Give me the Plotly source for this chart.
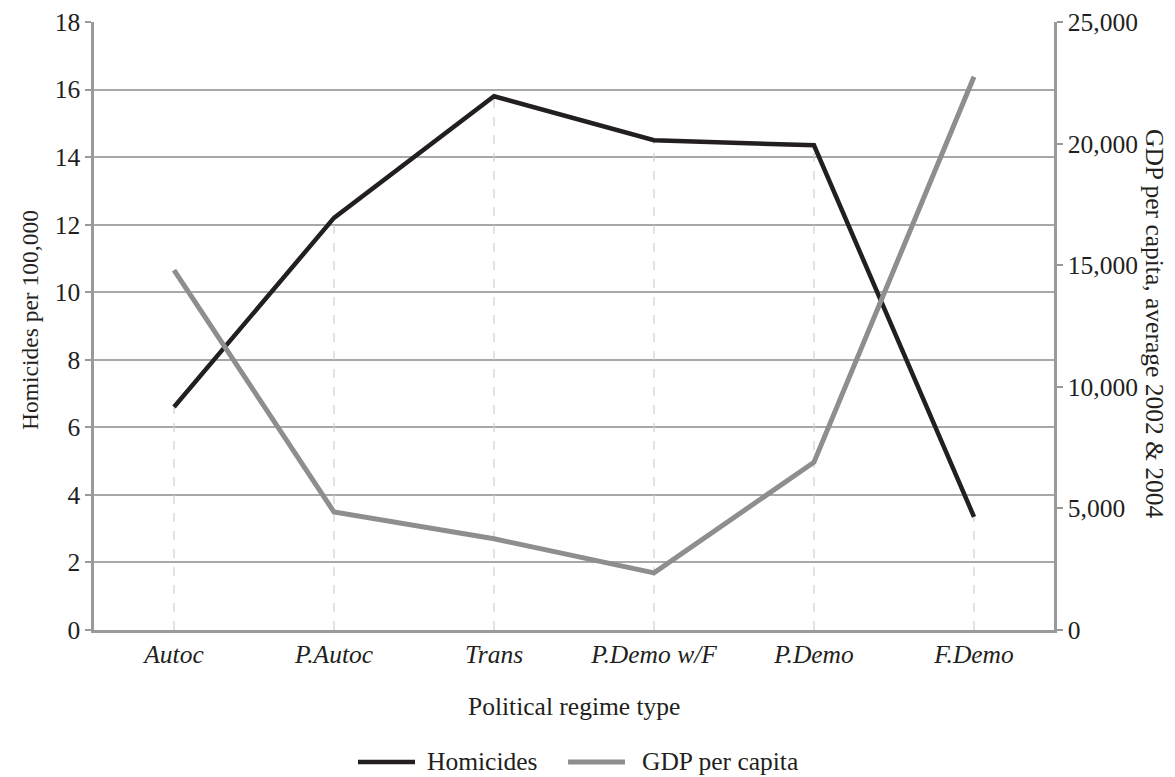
import plotly.graph_objects as go

categories = ["Autoc", "P.Autoc", "Trans", "P.Demo w/F", "P.Demo", "F.Demo"]
homicides = [6.6, 12.2, 15.8, 14.5, 14.35, 3.35]
gdp_per_capita = [14800, 4850, 3750, 2350, 6900, 22750]

FONT = "Liberation Serif, Times New Roman, serif"
TXT = "#231f20"
FS = 25.5
C_HOM = "#231f20"
C_GDP = "#8e8e8e"

# drop lines from axis to homicide points, built from data
dx, dy = [], []
for c, v in zip(categories, homicides):
    dx += [c, c, None]
    dy += [0, v, None]

fig = go.Figure()
fig.add_trace(go.Scatter(x=dx, y=dy, mode="lines", showlegend=False, hoverinfo="skip",
                         line=dict(color="#cfcfcf", width=1.2, dash="dash")))
fig.add_trace(go.Scatter(x=categories, y=homicides, name="Homicides", mode="lines",
                         showlegend=False, line=dict(color=C_HOM, width=4.5)))
fig.add_trace(go.Scatter(x=categories, y=gdp_per_capita, name="GDP per capita", mode="lines",
                         showlegend=False, yaxis="y2", line=dict(color=C_GDP, width=5)))

# legend drawn below the chart (paper coordinates)
LEG_Y = -0.217
legend_items = [("Homicides", C_HOM, 4.5, 0.2750, 0.3344, 0.3448),
                ("GDP per capita", C_GDP, 5, 0.4938, 0.5531, 0.5688)]
shapes, annos = [], []
for name, col, w, x0, x1, xt in legend_items:
    shapes.append(dict(type="line", xref="paper", yref="paper", x0=x0, x1=x1,
                       y0=LEG_Y, y1=LEG_Y, line=dict(color=col, width=w)))
    annos.append(dict(text=name, xref="paper", yref="paper", x=xt, y=LEG_Y,
                      xanchor="left", yanchor="middle", showarrow=False,
                      font=dict(size=FS, family=FONT, color=TXT)))

fig.update_layout(
    width=1167, height=769,
    paper_bgcolor="white", plot_bgcolor="white",
    margin=dict(l=86, r=121, t=14, b=147, autoexpand=False),
    font=dict(family=FONT, size=FS, color=TXT),
    showlegend=False,
    xaxis=dict(type="category", range=[-0.5, 5.5], showgrid=False,
               showline=True, linecolor="#9a9a9a", linewidth=2.5, ticks="",
               tickfont=dict(family=FONT, size=FS, style="italic", color=TXT)),
    yaxis=dict(range=[0, 18], tickvals=[0, 2, 4, 6, 8, 10, 12, 14, 16, 18],
               showgrid=True, gridcolor="#a8a8a8", gridwidth=2,
               showline=True, linecolor="#9a9a9a", linewidth=2.5, zeroline=False,
               ticks="outside", ticklen=6, tickwidth=2, tickcolor="#9a9a9a",
               ticklabeloverflow="allow", tickfont=dict(size=FS)),
    yaxis2=dict(range=[0, 25000], tickvals=[0, 5000, 10000, 15000, 20000, 25000],
                tickformat=",", overlaying="y", side="right",
                showgrid=False, showline=True, linecolor="#9a9a9a", linewidth=2.5, zeroline=False,
                ticks="outside", ticklen=6, tickwidth=2, tickcolor="#9a9a9a",
                ticklabeloverflow="allow", tickfont=dict(size=FS)),
    shapes=shapes,
    annotations=[
        dict(text="Political regime type", xref="paper", yref="paper", x=0.5, y=0,
             xanchor="center", yanchor="middle", yshift=-76, showarrow=False,
             font=dict(size=FS, family=FONT, color=TXT)),
        dict(text="Homicides per 100,000", textangle=-90, xref="paper", yref="paper",
             x=0, xshift=-64, y=0.5, yshift=6, xanchor="center", yanchor="middle",
             showarrow=False, font=dict(size=23.5, family=FONT, color=TXT)),
        dict(text="GDP per capita, average 2002 & 2004", textangle=90,
             xref="paper", yref="paper", x=1.0, xshift=101, y=0.5, yshift=3,
             xanchor="center", yanchor="middle",
             showarrow=False, font=dict(size=FS, family=FONT, color=TXT)),
    ] + annos,
)

fig.write_html("out.html")
